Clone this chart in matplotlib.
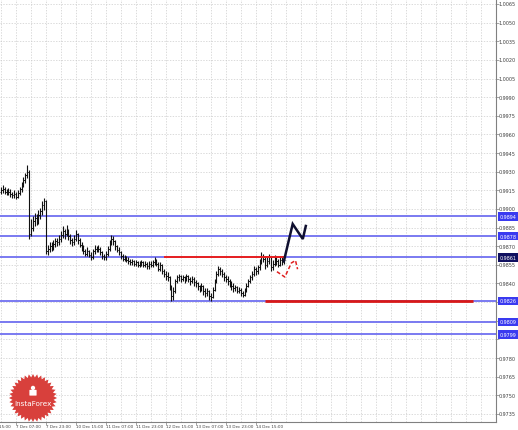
"""
EURUSD-aehnlicher H1 Chart (MT4 Stil) mit Levels und Prognose-Pfeilen
"""

import numpy as np
import matplotlib.pyplot as plt
from matplotlib.patches import Polygon, Circle, FancyBboxPatch

# Schlusskurse je Stunde, Bar-Index 8..159
closes = [
    0.9915, 0.9916, 0.9914, 0.9913, 0.9914, 0.9912, 0.9911, 0.9912, 0.9910, 0.9913,
    0.9916, 0.9920, 0.9923, 0.9927, 0.9930, 0.9880, 0.9885, 0.9890, 0.9893, 0.9890,
    0.9895, 0.9898, 0.9903, 0.9906, 0.9866, 0.9868, 0.9870, 0.9869, 0.9872, 0.9874,
    0.9873, 0.9876, 0.9879, 0.9882, 0.9880, 0.9883, 0.9878, 0.9875, 0.9873, 0.9876,
    0.9880, 0.9875, 0.9871, 0.9869, 0.9866, 0.9864, 0.9866, 0.9863, 0.9861, 0.9866,
    0.9868, 0.9867, 0.9868, 0.9865, 0.9862, 0.9861, 0.9864, 0.9868, 0.9873, 0.9876,
    0.9874, 0.9870, 0.9867, 0.9865, 0.9862, 0.9860, 0.9861, 0.9859, 0.9858, 0.9857,
    0.9858, 0.9856, 0.9857, 0.9855, 0.9856, 0.9857, 0.9855, 0.9856, 0.9854, 0.9856,
    0.9855, 0.9857, 0.9858, 0.9856, 0.9852, 0.9855, 0.9850, 0.9848, 0.9846, 0.9845,
    0.9838, 0.9830, 0.9834, 0.9842, 0.9845, 0.9846, 0.9844, 0.9845, 0.9843, 0.9846,
    0.9844, 0.9842, 0.9844, 0.9841, 0.9840, 0.9838, 0.9836, 0.9838, 0.9834, 0.9832,
    0.9834, 0.9830, 0.9829, 0.9835, 0.9842, 0.9848, 0.9852, 0.9850, 0.9848, 0.9845,
    0.9844, 0.9842, 0.9840, 0.9838, 0.9836, 0.9837, 0.9834, 0.9835, 0.9832, 0.9831,
    0.9834, 0.9838, 0.9842, 0.9845, 0.9848, 0.9852, 0.9850, 0.9853, 0.9858, 0.9862,
    0.9860, 0.9855, 0.9858, 0.9861, 0.9853, 0.9856, 0.9860, 0.9858, 0.9855, 0.9859,
    0.9857, 0.9859,
]
highs = [
    0.9918, 0.9919, 0.9918, 0.9916, 0.9917, 0.9916, 0.9914, 0.9915, 0.9914, 0.9915,
    0.9918, 0.9922, 0.9926, 0.9929, 0.9935, 0.9931, 0.9892, 0.9894, 0.9897, 0.9896,
    0.9899, 0.9901, 0.9906, 0.9909, 0.9907, 0.9871, 0.9873, 0.9873, 0.9875, 0.9877,
    0.9877, 0.9879, 0.9882, 0.9886, 0.9884, 0.9887, 0.9884, 0.9880, 0.9877, 0.9879,
    0.9883, 0.9881, 0.9877, 0.9873, 0.9871, 0.9868, 0.9869, 0.9867, 0.9865, 0.9868,
    0.9871, 0.9870, 0.9871, 0.9869, 0.9866, 0.9864, 0.9866, 0.9870, 0.9875, 0.9879,
    0.9878, 0.9875, 0.9871, 0.9869, 0.9866, 0.9864, 0.9863, 0.9862, 0.9861, 0.9860,
    0.9860, 0.9859, 0.9859, 0.9858, 0.9858, 0.9859, 0.9858, 0.9858, 0.9857, 0.9858,
    0.9858, 0.9859, 0.9861, 0.9860, 0.9857, 0.9857, 0.9856, 0.9852, 0.9850, 0.9849,
    0.9846, 0.9839, 0.9837, 0.9844, 0.9847, 0.9848, 0.9847, 0.9847, 0.9846, 0.9848,
    0.9847, 0.9845, 0.9846, 0.9845, 0.9843, 0.9841, 0.9839, 0.9840, 0.9839, 0.9836,
    0.9836, 0.9835, 0.9832, 0.9837, 0.9844, 0.9850, 0.9854, 0.9853, 0.9852, 0.9849,
    0.9847, 0.9846, 0.9844, 0.9842, 0.9840, 0.9839, 0.9838, 0.9837, 0.9836, 0.9834,
    0.9836, 0.9840, 0.9844, 0.9847, 0.9850, 0.9854, 0.9853, 0.9855, 0.9860, 0.9865,
    0.9864, 0.9862, 0.9861, 0.9864, 0.9862, 0.9859, 0.9863, 0.9862, 0.9860, 0.9861,
    0.9861, 0.9862,
]
lows = [
    0.9912, 0.9913, 0.9912, 0.9911, 0.9911, 0.9910, 0.9909, 0.9909, 0.9908, 0.9909,
    0.9911, 0.9914, 0.9918, 0.9921, 0.9925, 0.9876, 0.9878, 0.9882, 0.9886, 0.9887,
    0.9888, 0.9892, 0.9895, 0.9899, 0.9864, 0.9863, 0.9865, 0.9866, 0.9867, 0.9869,
    0.9870, 0.9871, 0.9873, 0.9877, 0.9876, 0.9878, 0.9875, 0.9872, 0.9870, 0.9871,
    0.9874, 0.9872, 0.9869, 0.9866, 0.9864, 0.9862, 0.9862, 0.9861, 0.9859, 0.9860,
    0.9864, 0.9865, 0.9865, 0.9863, 0.9860, 0.9859, 0.9859, 0.9862, 0.9866, 0.9871,
    0.9871, 0.9867, 0.9865, 0.9863, 0.9860, 0.9858, 0.9858, 0.9857, 0.9856, 0.9855,
    0.9855, 0.9854, 0.9854, 0.9853, 0.9853, 0.9854, 0.9853, 0.9853, 0.9852, 0.9852,
    0.9853, 0.9853, 0.9855, 0.9854, 0.9850, 0.9850, 0.9848, 0.9845, 0.9843, 0.9842,
    0.9835, 0.9826, 0.9827, 0.9832, 0.9840, 0.9842, 0.9841, 0.9842, 0.9840, 0.9842,
    0.9841, 0.9839, 0.9840, 0.9838, 0.9837, 0.9835, 0.9833, 0.9834, 0.9831, 0.9829,
    0.9830, 0.9827, 0.9826, 0.9828, 0.9834, 0.9840, 0.9846, 0.9847, 0.9845, 0.9842,
    0.9841, 0.9839, 0.9837, 0.9835, 0.9833, 0.9834, 0.9832, 0.9832, 0.9830, 0.9829,
    0.9830, 0.9833, 0.9837, 0.9840, 0.9843, 0.9846, 0.9847, 0.9848, 0.9851, 0.9856,
    0.9857, 0.9852, 0.9853, 0.9856, 0.9850, 0.9851, 0.9854, 0.9855, 0.9853, 0.9854,
    0.9855, 0.9856,
]
first_bar = 8
first_open = 0.9914

# Zeitachse (Bar-Index -> Label)
tick_bars = [0, 16, 32, 48, 64, 80, 96, 112, 128, 144]
tick_labels = ["6 Dec 15:00", "7 Dec 07:00", "7 Dec 23:00", "10 Dec 15:00",
               "11 Dec 07:00", "11 Dec 23:00", "12 Dec 15:00", "13 Dec 07:00",
               "13 Dec 23:00", "14 Dec 15:00"]

# Preisachse
price_ticks = [round(0.9735 + 0.0015 * k, 4) for k in range(23)]

# Horizontale Levels (blau) und Markierungen
blue_levels = [0.9894, 0.9878, 0.9861, 0.9826, 0.9809, 0.9799]
red_upper = (95, 159, 0.9861)
red_lower = (149, 260, 0.9826)

# Prognose-Pfeile
arrow_bars = [159, 163.7, 169.1, 170.7]
arrow_prices = [0.9858, 0.98879, 0.98758, 0.98863]
alt_bars = [155.3, 159.5, 163.0, 165.2, 166.3]
alt_prices = [0.98495, 0.98452, 0.98565, 0.98585, 0.98515]

W, H = 518, 431
fig = plt.figure(figsize=(W / 100, H / 100), dpi=100)
fig.patch.set_facecolor("white")
ax = fig.add_axes([0, 8 / H, 496 / W, 423 / H])

idx = np.arange(first_bar, first_bar + len(closes))
opens = [first_open] + closes[:-1]

ax.set_xlim(7.5, 272.2)
ax.set_ylim(0.97285, 1.00690)

# Raster
for b in range(0, 280, 8):
    ax.axvline(b, color="#cccccc", lw=0.5, ls=(0, (2, 2)), zorder=0)
for p in price_ticks:
    ax.axhline(p, color="#cccccc", lw=0.5, ls=(0, (2, 2)), zorder=0)

# Levels
for lv in blue_levels:
    ax.axhline(lv, color="#7070f0", lw=1.3, zorder=1)
ax.hlines(red_upper[2], red_upper[0], red_upper[1], color="#e82020", lw=1.4, zorder=3)
ax.hlines(red_lower[2], red_lower[0], red_lower[1], color="#d81818", lw=2.0, zorder=3)

# OHLC Bars
ax.vlines(idx, lows, highs, color="#111111", lw=0.8, zorder=2)
ax.hlines(opens, idx - 0.7, idx, color="#111111", lw=0.6, zorder=2)
ax.hlines(closes, idx, idx + 0.7, color="#111111", lw=0.6, zorder=2)

# Pfeile
ax.plot(arrow_bars, arrow_prices, color="#101030", lw=1.8, zorder=4,
        solid_joinstyle="miter")
ax.plot(alt_bars, alt_prices, color="#e02020", lw=1.1, ls=(0, (2.5, 1.5)), zorder=4)

# Achsen
for s in ["top", "left"]:
    ax.spines[s].set_visible(False)
for s in ["right", "bottom"]:
    ax.spines[s].set_color("#808080")
    ax.spines[s].set_linewidth(0.8)

ax.set_xticks([b for b in tick_bars if b >= 8])
ax.set_xticklabels([])
ax.tick_params(axis="x", length=2, width=0.5, color="#808080")
for b, lab in zip(tick_bars, tick_labels):
    ax.text(b, -0.004, lab, transform=ax.get_xaxis_transform(), ha="left", va="top",
            fontsize=3.0, color="#404040", family="Liberation Sans Narrow", clip_on=False)

ax.yaxis.tick_right()
ax.set_yticks(price_ticks)
ax.set_yticklabels([])
ax.tick_params(axis="y", length=2, width=0.5, color="#808080")
for p in price_ticks:
    if any(abs(p - lv) < 0.0004 for lv in blue_levels):
        continue
    ax.text(1.006, p, f"{p:.4f}", transform=ax.get_yaxis_transform(), ha="left",
            va="center", fontsize=3.5, color="#404040",
            family="Liberation Sans Narrow", clip_on=False)
for lv in blue_levels:
    face = "#101060" if lv == 0.9861 else "#3a3af0"
    ax.text(1.008, lv, f"{lv:.4f}", transform=ax.get_yaxis_transform(), ha="left",
            va="center", fontsize=3.5, color="white", family="Liberation Sans Narrow",
            clip_on=False,
            bbox=dict(boxstyle="square,pad=0.35", fc=face, ec="none"))

# InstaForex Logo
lg = fig.add_axes([9 / W, 8 / H, 48 / W, 48 / H])
lg.set_xlim(-1, 1)
lg.set_ylim(-1, 1)
lg.axis("off")
n = 36
ang = np.linspace(0, 2 * np.pi, 2 * n, endpoint=False) + np.pi / 2
rad = np.where(np.arange(2 * n) % 2 == 0, 1.0, 0.86)
lg.add_patch(Polygon(np.column_stack([rad * np.cos(ang), rad * np.sin(ang)]),
                     closed=True, fc="#d8403c", ec="none"))
lg.add_patch(Circle((0, 0.42), 0.09, fc="white", ec="none"))
lg.add_patch(FancyBboxPatch((-0.13, 0.12), 0.26, 0.2, boxstyle="round,pad=0.02",
                            fc="white", ec="none"))
lg.text(0, -0.2, "InstaForex", ha="center", va="center", fontsize=5.2, color="white",
        family="DejaVu Sans")

plt.savefig("out.png", dpi=100)
